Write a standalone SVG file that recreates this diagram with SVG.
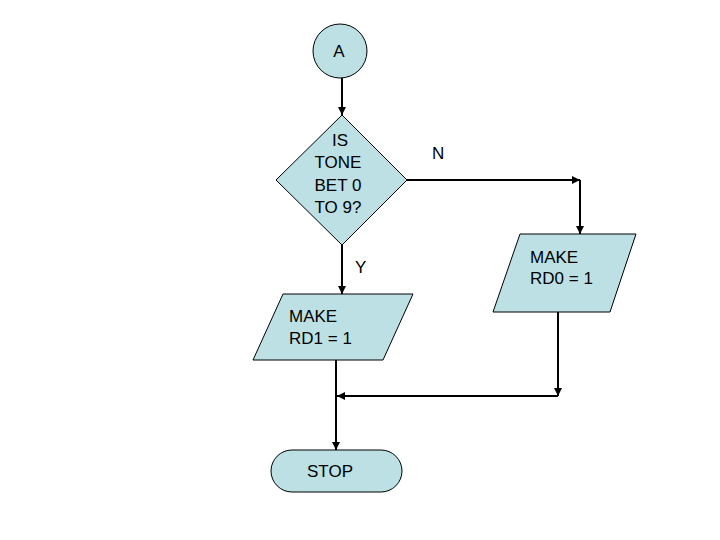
<svg xmlns="http://www.w3.org/2000/svg" width="720" height="540" viewBox="0 0 720 540">
<style>
.shape{fill:#BCE0E4;stroke:#000;stroke-width:1}
.t{font-family:"Liberation Sans",Arial,sans-serif;font-size:17px;fill:#000}
.c{text-anchor:middle}
.conn{fill:none;stroke:#000;stroke-width:2}
</style>
<defs>
<marker id="ah" viewBox="0 0 10 10" refX="10" refY="5" markerWidth="4" markerHeight="4" orient="auto" markerUnits="strokeWidth">
<path d="M0,0 L10,5 L0,10 z" fill="#000"/>
</marker>
</defs>
<rect width="720" height="540" fill="#fff"/>
<g id="connectors">
<line class="conn" x1="342" y1="78" x2="342" y2="115" marker-end="url(#ah)"/>
<polyline class="conn" points="407,180 580,180" marker-end="url(#ah)"/>
<line class="conn" x1="580" y1="180" x2="580" y2="234" marker-end="url(#ah)"/>
<line class="conn" x1="342" y1="245" x2="342" y2="294" marker-end="url(#ah)"/>
<line class="conn" x1="558" y1="312" x2="558" y2="396" marker-end="url(#ah)"/>
<line class="conn" x1="558" y1="396" x2="337" y2="396" marker-end="url(#ah)"/>
<line class="conn" x1="336" y1="360" x2="336" y2="450" marker-end="url(#ah)"/>
</g>
<g id="nodeA">
<circle class="shape" cx="340" cy="51" r="27"/>
<text class="t c" x="339" y="57">A</text>
</g>
<g id="decision">
<polygon class="shape" points="342,115 407,180 342,245 276,180"/>
<text class="t c" x="340" y="146">IS</text>
<text class="t c" x="338" y="168">TONE</text>
<text class="t c" x="338" y="191">BET 0</text>
<text class="t c" x="338" y="213">TO 9?</text>
</g>
<g id="labelN"><text class="t" x="432" y="159">N</text></g>
<g id="labelY"><text class="t" x="355" y="273">Y</text></g>
<g id="rd0">
<polygon class="shape" points="520,234 636,234 610,312 493,312"/>
<text class="t" x="530" y="263">MAKE</text>
<text class="t" x="530" y="284">RD0 = 1</text>
</g>
<g id="rd1">
<polygon class="shape" points="283,294 413,294 383,360 253,360"/>
<text class="t" x="289" y="322">MAKE</text>
<text class="t" x="289" y="344">RD1 = 1</text>
</g>
<g id="stop">
<rect class="shape" x="271" y="450" width="131" height="42" rx="21" ry="21"/>
<text class="t c" x="330" y="477">STOP</text>
</g>
</svg>
